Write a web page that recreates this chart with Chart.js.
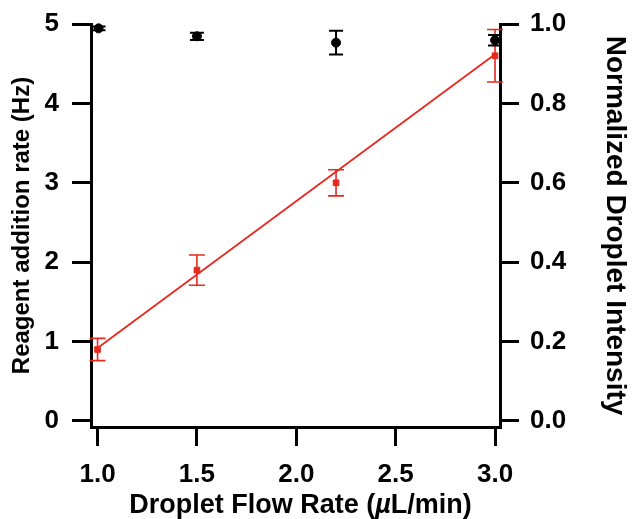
<!DOCTYPE html>
<html lang="en">
<head>
<meta charset="UTF-8">
<script src="https://cdn.jsdelivr.net/npm/chart.js@4.4.1/dist/chart.umd.min.js"></script>
<title>Reagent addition rate</title>
<style>
  body { margin: 0; background: #fff; }
</style>
</head>
<body>
<canvas id="chart" width="636" height="519"></canvas>
<script>
// red series: reagent addition rate (left axis)
const flowRates = [1.0, 1.5, 2.2, 3.0];
const rateValues = [0.9, 1.9, 3.0, 4.6];
const rateErrors = [0.14, 0.19, 0.165, 0.33];
// black series: normalized droplet intensity (right axis)
const intensityFlow = [1.005, 1.5, 2.2, 3.0];
const intensityValues = [0.989, 0.969, 0.953, 0.959];
const intensityErrors = [0.005, 0.009, 0.03, 0.013];
// linear fit through red points
const fitFlow = [1.0, 3.0];
const fitRate = [0.92, 4.62];
// tick labels
const xTicks = [1.0, 1.5, 2.0, 2.5, 3.0];
const leftTicks = [0, 1, 2, 3, 4, 5];
const rightTicks = [0.0, 0.2, 0.4, 0.6, 0.8, 1.0];

const RED = '#e8291f';
const FONT = "'Liberation Sans', Arial, sans-serif";

const errorBars = {
  id: 'errorBars',
  afterDatasetsDraw(chart) {
    const ctx = chart.ctx;
    chart.data.datasets.forEach((ds, i) => {
      if (!ds.errors) return;
      const xs = chart.scales.x;
      const ys = chart.scales[ds.yAxisID];
      ctx.save();
      ctx.strokeStyle = ds.borderColor;
      ctx.lineWidth = ds.errWidth;
      ds.data.forEach((p, j) => {
        const px = xs.getPixelForValue(p.x);
        const top = ys.getPixelForValue(p.y + ds.errors[j]);
        const bot = ys.getPixelForValue(p.y - ds.errors[j]);
        const c = ds.capHalf;
        ctx.beginPath();
        ctx.moveTo(px, top); ctx.lineTo(px, bot);
        ctx.moveTo(px - c, top); ctx.lineTo(px + c, top);
        ctx.moveTo(px - c, bot); ctx.lineTo(px + c, bot);
        ctx.stroke();
      });
      ctx.restore();
    });
  }
};

// x title with italic mu
const xTitle = {
  id: 'xTitle',
  afterDraw(chart) {
    const ctx = chart.ctx;
    const parts = [['Droplet Flow Rate (', ''], ['µ', 'italic '], ['L/min)', '']];
    const size = 27;
    let total = 0;
    parts.forEach(p => {
      ctx.font = p[1] + 'bold ' + size + 'px ' + FONT;
      total += ctx.measureText(p[0]).width;
    });
    const a = chart.chartArea;
    let x = (a.left + a.right) / 2 + 5 - total / 2;
    ctx.save();
    ctx.fillStyle = '#000';
    ctx.textBaseline = 'alphabetic';
    parts.forEach(p => {
      ctx.font = p[1] + 'bold ' + size + 'px ' + FONT;
      ctx.fillText(p[0], x, 513);
      x += ctx.measureText(p[0]).width;
    });
    ctx.restore();
  }
};

const axisStyle = {
  border: { display: true, color: '#000', width: 3 },
  grid: { display: true, drawOnChartArea: false, color: '#000', tickColor: '#000', tickLength: 19, tickWidth: 3, lineWidth: 3 },
};

new Chart(document.getElementById('chart'), {
  type: 'scatter',
  data: {
    datasets: [
      {
        type: 'line',
        data: fitFlow.map((x, i) => ({ x, y: fitRate[i] })),
        yAxisID: 'y',
        borderColor: RED,
        borderWidth: 1.8,
        pointRadius: 0,
        fill: false
      },
      {
        data: flowRates.map((x, i) => ({ x, y: rateValues[i] })),
        errors: rateErrors,
        yAxisID: 'y',
        borderColor: RED,
        backgroundColor: RED,
        pointStyle: 'rect',
        pointRadius: 4,
        errWidth: 1.6,
        capHalf: 8
      },
      {
        data: intensityFlow.map((x, i) => ({ x, y: intensityValues[i] })),
        errors: intensityErrors,
        yAxisID: 'y1',
        borderColor: '#000',
        backgroundColor: '#000',
        pointStyle: 'circle',
        pointRadius: 4.5,
        errWidth: 2,
        capHalf: 7
      }
    ]
  },
  options: {
    responsive: false,
    animation: false,
    clip: false,
    layout: { padding: { top: 24, right: 0, left: 0, bottom: 0 } },
    plugins: { legend: { display: false }, tooltip: { enabled: false } },
    scales: {
      x: {
        type: 'linear',
        min: 0.967, max: 3.025,
        ...axisStyle,
        afterBuildTicks: s => { s.ticks = xTicks.map(v => ({ value: v })); },
        afterFit: s => { s.height = 92; s.paddingLeft = 0; s.paddingRight = 0; },
        ticks: { color: '#000', font: { family: FONT, size: 26, weight: 'bold' }, padding: 13, callback: v => v.toFixed(1), maxRotation: 0 },
        title: { display: false, text: 'Droplet Flow Rate (µL/min)' }
      },
      y: {
        position: 'left',
        min: -0.076, max: 5.0,
        ...axisStyle,
        afterBuildTicks: s => { s.ticks = leftTicks.map(v => ({ value: v })); },
        afterFit: s => { s.width = 91; s.paddingTop = 0; s.paddingBottom = 0; },
        ticks: { color: '#000', font: { family: FONT, size: 26, weight: 'bold' }, padding: 13, callback: v => String(v) },
        title: { display: true, text: 'Reagent addition rate (Hz)', color: '#000', font: { family: FONT, size: 24, weight: 'bold' }, padding: { top: 8, bottom: 0 } }
      },
      y1: {
        position: 'right',
        min: -0.0152, max: 1.0,
        ...axisStyle,
        afterBuildTicks: s => { s.ticks = rightTicks.map(v => ({ value: v })); },
        afterFit: s => { s.width = 136; s.paddingTop = 0; s.paddingBottom = 0; },
        ticks: { color: '#000', font: { family: FONT, size: 26, weight: 'bold' }, padding: 11, callback: v => v.toFixed(1) },
        title: { display: true, text: 'Normalized Droplet Intensity', color: '#000', font: { family: FONT, size: 28, weight: 'bold' }, padding: { top: 4, bottom: 0 } }
      }
    }
  },
  plugins: [errorBars, xTitle]
});
</script>
</body>
</html>
